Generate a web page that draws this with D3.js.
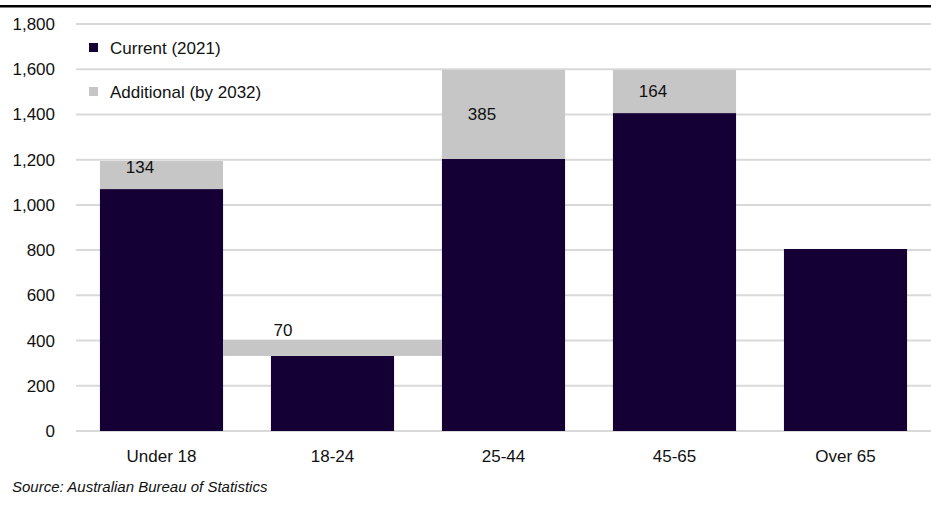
<!DOCTYPE html>
<html>
<head>
<meta charset="utf-8">
<script src="https://cdn.jsdelivr.net/npm/d3@7"></script>
<style>
  body { margin: 0; background: #fff; }
  text { font-family: "Liberation Sans", Arial, sans-serif; fill: #111; }
</style>
</head>
<body>
<div id="chart"></div>
<script>
// data
const categories = ["Under 18", "18-24", "25-44", "45-65", "Over 65"]
const current = [1070, 332, 1203, 1406, 805]
const additional = [124, 70, 394, 191, 0]
const additionalLabels = ["134", "70", "385", "164", ""]
const yTicks = [0, 200, 400, 600, 800, 1000, 1200, 1400, 1600, 1800]
const seriesNames = ["Current (2021)", "Additional (by 2032)"]

const darkColor = "#150035"
const greyColor = "#c6c6c6"

const W = 931, H = 512
const margin = { top: 24, right: 0, bottom: 81, left: 76 }
const width = W - margin.left - margin.right
const height = H - margin.top - margin.bottom

const svg = d3.select("#chart").append("svg")
    .attr("width", W)
    .attr("height", H)

// black rule along the top
svg.append("rect")
    .attr("x", 0).attr("y", 5)
    .attr("width", W).attr("height", 2.5)
    .attr("fill", "#000")

const g = svg.append("g")
    .attr("transform", "translate(" + margin.left + "," + margin.top + ")")

const x = d3.scaleBand()
    .domain(categories)
    .range([0, width])
    .paddingInner(0.28)
    .paddingOuter(0.14)

const y = d3.scaleLinear()
    .domain([0, 1800])
    .range([height, 0])

// gridlines
g.append("g")
    .selectAll("line")
    .data(yTicks)
    .enter()
    .append("line")
    .attr("x1", 0).attr("x2", width)
    .attr("y1", d => y(d)).attr("y2", d => y(d))
    .attr("stroke", "#d9d9d9")
    .attr("stroke-width", 2)

// y axis labels
const yAxis = d3.axisLeft(y)
    .tickValues(yTicks)
    .tickFormat(d3.format(","))
    .tickSize(0)
    .tickPadding(21)

g.append("g")
    .call(yAxis)
    .call(a => a.select(".domain").remove())
    .selectAll("text")
    .style("font-size", "17px")
    .attr("fill", "#111")

// x axis labels
const xAxis = d3.axisBottom(x)
    .tickSize(0)
    .tickPadding(19)

g.append("g")
    .attr("transform", "translate(0," + height + ")")
    .call(xAxis)
    .call(a => a.select(".domain").remove())
    .selectAll("text")
    .style("font-size", "17px")
    .attr("fill", "#111")

// current bars
g.selectAll(".bar-current")
    .data(categories)
    .enter()
    .append("rect")
    .attr("class", "bar-current")
    .attr("x", d => x(d))
    .attr("width", x.bandwidth())
    .attr("y", (d, i) => y(current[i]))
    .attr("height", (d, i) => height - y(current[i]))
    .attr("fill", darkColor)

// additional bars (the 18-24 one fills the whole gap between its neighbours)
const addX = i => i === 1 ? x(categories[0]) + x.bandwidth() : x(categories[i])
const addW = i => i === 1 ? x(categories[2]) - (x(categories[0]) + x.bandwidth()) : x.bandwidth()

g.selectAll(".bar-add")
    .data(categories.filter((d, i) => additional[i] > 0))
    .enter()
    .append("rect")
    .attr("class", "bar-add")
    .attr("x", d => addX(categories.indexOf(d)))
    .attr("width", d => addW(categories.indexOf(d)))
    .attr("y", d => { const i = categories.indexOf(d); return y(current[i] + additional[i]) })
    .attr("height", d => { const i = categories.indexOf(d); return y(current[i]) - y(current[i] + additional[i]) })
    .attr("fill", greyColor)

// labels on the additional segments
g.selectAll(".add-label")
    .data(categories.filter((d, i) => additionalLabels[i] !== ""))
    .enter()
    .append("text")
    .attr("class", "add-label")
    .attr("x", d => addX(categories.indexOf(d)) + (categories.indexOf(d) === 1 ? 60 : 40))
    .attr("y", d => {
        const i = categories.indexOf(d)
        const top = y(current[i] + additional[i]), bot = y(current[i])
        if (bot - top < 20) return top - 10
        if (bot - top < 40) return top + 6
        return (top + bot) / 2
    })
    .attr("text-anchor", "middle")
    .attr("dominant-baseline", "central")
    .style("font-size", "17px")
    .text(d => additionalLabels[categories.indexOf(d)])

// legend
const legend = svg.append("g")
    .selectAll("g")
    .data(seriesNames)
    .enter()
    .append("g")
    .attr("transform", (d, i) => "translate(89," + (43 + i * 44) + ")")

legend.append("rect")
    .attr("width", 9).attr("height", 9)
    .attr("fill", (d, i) => i === 0 ? darkColor : greyColor)

legend.append("text")
    .attr("x", 21).attr("y", 5)
    .attr("dominant-baseline", "central")
    .style("font-size", "17px")
    .text(d => d)

// source note
svg.append("text")
    .attr("x", 12).attr("y", 492)
    .style("font-size", "15px")
    .style("font-style", "italic")
    .text("Source: Australian Bureau of Statistics")
</script>
</body>
</html>
